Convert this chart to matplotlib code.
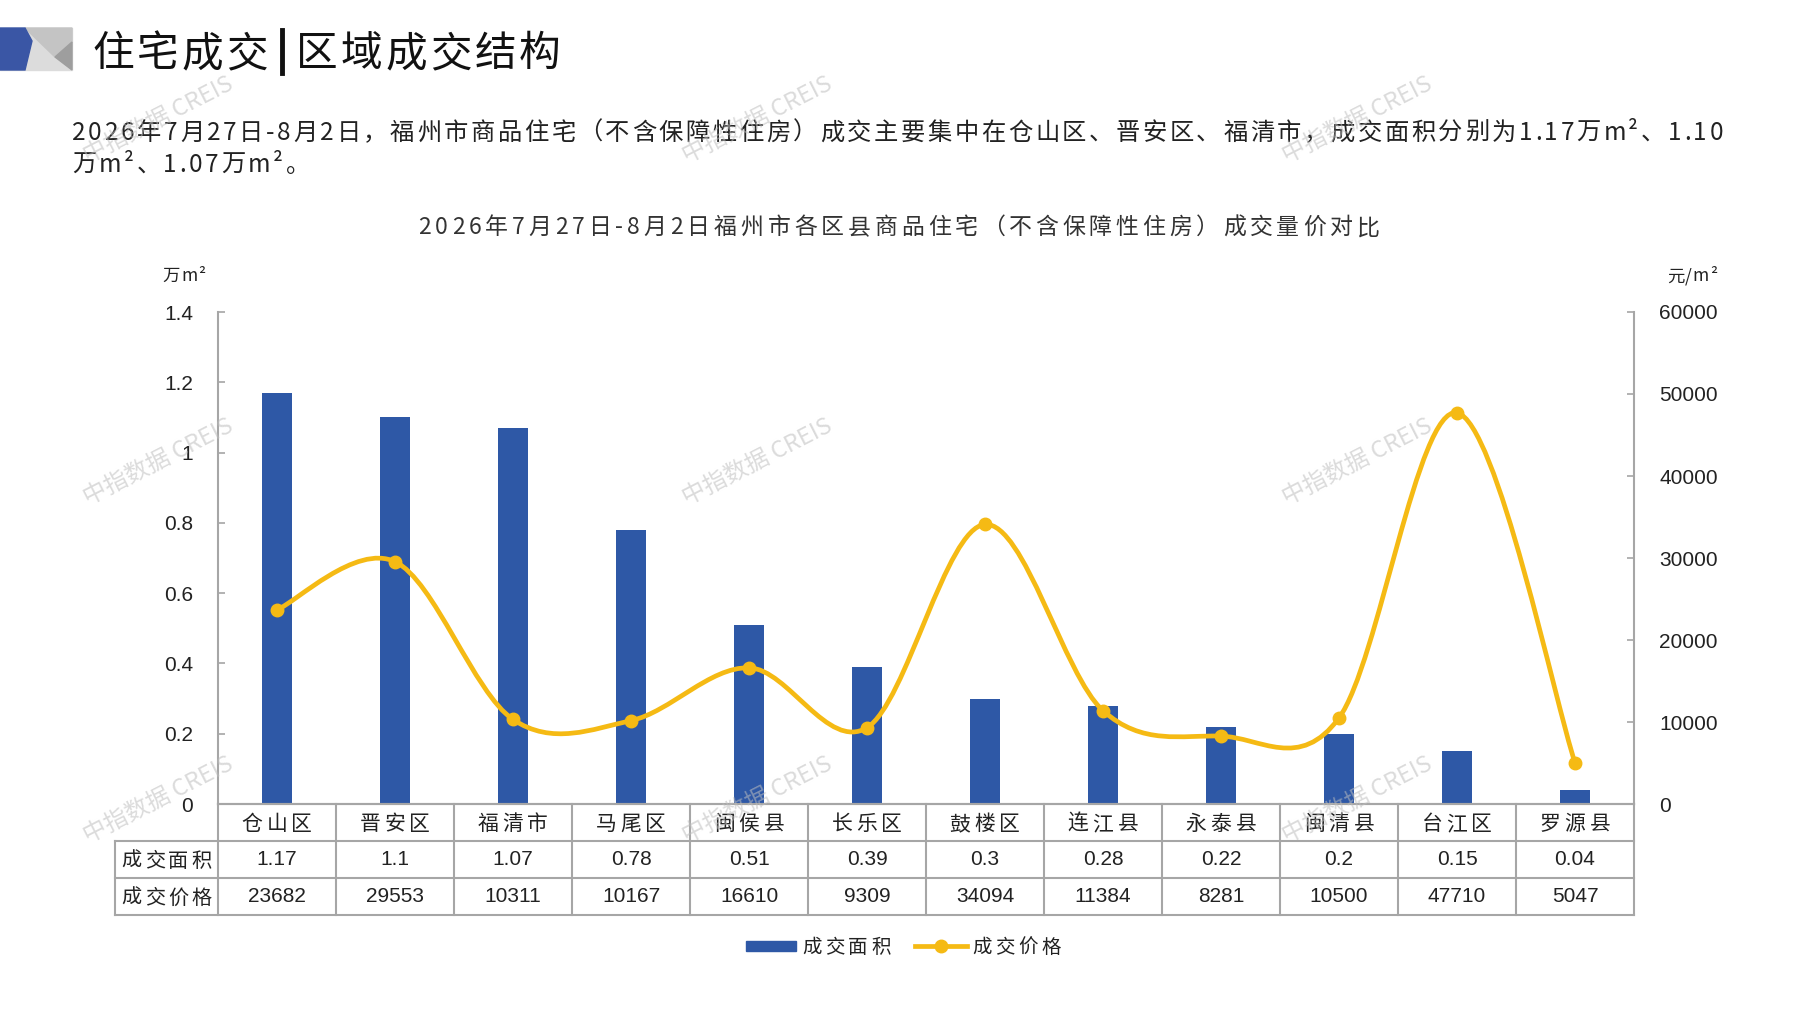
import matplotlib
matplotlib.use("Agg")
import matplotlib.pyplot as plt
from matplotlib.patches import Polygon, PathPatch
from matplotlib.path import Path
from matplotlib.lines import Line2D
from matplotlib.transforms import blended_transform_factory
from matplotlib.font_manager import FontProperties
import numpy as np

CJK = ['Noto Sans CJK SC', 'DejaVu Sans']
NUM = ['Liberation Sans Narrow', 'Liberation Sans', 'Noto Sans CJK SC']
plt.rcParams['font.family'] = CJK

# data
districts = ["仓山区", "晋安区", "福清市", "马尾区", "闽侯县", "长乐区",
             "鼓楼区", "连江县", "永泰县", "闽清县", "台江区", "罗源县"]
area = [1.17, 1.1, 1.07, 0.78, 0.51, 0.39, 0.3, 0.28, 0.22, 0.2, 0.15, 0.04]
area_labels = ["1.17", "1.1", "1.07", "0.78", "0.51", "0.39", "0.3", "0.28",
               "0.22", "0.2", "0.15", "0.04"]
price = [23682, 29553, 10311, 10167, 16610, 9309, 34094, 11384, 8281, 10500, 47710, 5047]

left_ticks = [0, 0.2, 0.4, 0.6, 0.8, 1.0, 1.2, 1.4]
left_labels = ["0", "0.2", "0.4", "0.6", "0.8", "1", "1.2", "1.4"]
right_ticks = [0, 10000, 20000, 30000, 40000, 50000, 60000]

summary_1 = "2026年7月27日-8月2日，福州市商品住宅（不含保障性住房）成交主要集中在仓山区、晋安区、福清市，成交面积分别为1.17万m²、1.10"
summary_2 = "万m²、1.07万m²。"
chart_title = "2026年7月27日-8月2日福州市各区县商品住宅（不含保障性住房）成交量价对比"

BLUE = "#2E58A6"
GOLD = "#F5BA14"
GRID = "#A6A6A6"
INK = "#222222"

W, H = 1797, 1010
fig = plt.figure(figsize=(W / 100, H / 100), dpi=100)
renderer = fig.canvas.get_renderer()


def px(x, y):
    return (x / W, 1 - y / H)


def widths(s, size, family=CJK):
    fp = FontProperties(family=family, size=size)
    return [renderer.get_text_width_height_descent(c, fp, ismath=False)[0] for c in s]


def spaced(x, y, s, size, track=0.0, ha="left", fit=None, color=INK, family=CJK):
    # x, y in pixels from top-left; places characters one by one with extra tracking
    ws = widths(s, size, family)
    if fit is not None:
        track = (fit - sum(ws)) / (len(s) - 1)
    total = sum(ws) + track * (len(s) - 1)
    cx = x - total / 2 if ha == "center" else x
    base = y + 0.36 * size * 100 / 72
    for c, w in zip(s, ws):
        fig.text(cx / W, 1 - base / H, c, fontsize=size, ha="left", va="baseline",
                 color=color, family=family)
        cx += w + track
    return track


# header logo
fig.patches.append(Polygon([px(0, 28), px(72, 28), px(72, 70), px(0, 70)],
                           closed=True, transform=fig.transFigure, color="#DCDCDC", zorder=1))
fig.patches.append(Polygon([px(25, 28), px(72, 28), px(72, 42), px(55, 57)],
                           closed=True, transform=fig.transFigure, color="#C4C4C4", zorder=2))
fig.patches.append(Polygon([px(72, 42), px(72, 70), px(55, 57)],
                           closed=True, transform=fig.transFigure, color="#9E9E9E", zorder=2))
fig.patches.append(Polygon([px(0, 28), px(25, 28), px(32, 41), px(25, 70), px(0, 70)],
                           closed=True, transform=fig.transFigure, color="#3A56A5", zorder=3))

spaced(92, 51, "住宅成交", 30, track=3, color="#111111")
fig.add_artist(Line2D([282 / W, 282 / W], [1 - 30 / H, 1 - 73 / H], color="#111111", lw=3.5))
spaced(296, 51, "区域成交结构", 30, track=3, color="#111111")

tr1 = spaced(72, 131, summary_1, 17.5, fit=1723 - 72)
spaced(72, 163, summary_2, 17.5, track=tr1)

spaced(899, 226, chart_title, 16.5, ha="center", fit=1380 - 419, color="#333333")

spaced(184, 275, "万m²", 12.5, ha="center", track=1)
spaced(1692, 275, "元/m²", 12.5, ha="center", track=1)

# main axes
ax = fig.add_axes([218 / W, 1 - 804 / H, (1634 - 218) / W, (804 - 312) / H])
ax2 = ax.twinx()
x = np.arange(len(districts))

ax.bar(x, area, width=0.25, color=BLUE, zorder=2)
ax.set_xlim(-0.5, len(districts) - 0.5)
ax.set_ylim(0, 1.4)
ax.set_yticks(left_ticks)
ax.set_yticklabels(left_labels, family=NUM, fontsize=15)
ax.set_xticks([])

ax2.set_ylim(0, 60000)
ax2.set_yticks(right_ticks)
ax2.set_yticklabels([str(t) for t in right_ticks], family=NUM, fontsize=15)

for a in (ax, ax2):
    a.spines["top"].set_visible(False)
    for s in ("left", "right", "bottom"):
        a.spines[s].set_color(GRID)
        a.spines[s].set_linewidth(1.5)
    a.tick_params(axis="y", direction="in", length=5, width=1.2, color=GRID, colors=INK, pad=18)
ax.spines["right"].set_visible(False)
ax2.spines["left"].set_visible(False)

# smooth price line (bezier through the points, like a smoothed office chart)
pts = np.column_stack([x, price]).astype(float)
ext = np.vstack([pts[0], pts, pts[-1]])
verts = [tuple(pts[0])]
codes = [Path.MOVETO]
for i in range(len(pts) - 1):
    p0, p1, p2, p3 = ext[i], ext[i + 1], ext[i + 2], ext[i + 3]
    c1 = p1 + (p2 - p0) / 6.0
    c2 = p2 - (p3 - p1) / 6.0
    verts += [tuple(c1), tuple(c2), tuple(p2)]
    codes += [Path.CURVE4] * 3
ax2.add_patch(PathPatch(Path(verts, codes), fill=False, edgecolor=GOLD, lw=3.4,
                        capstyle="round", joinstyle="round", zorder=4))
ax2.plot(x, price, linestyle="none", marker="o", markersize=9, color=GOLD, zorder=5)

# data table under the axes
tr = blended_transform_factory(ax.transData, ax.transAxes)
rh = 37 / 492
lab_left = -0.5 - 103 / 118
lab_mid = (lab_left - 0.5) / 2
lkw = dict(color=GRID, lw=1.5, transform=tr, clip_on=False)
for yy in (-rh, -2 * rh, -3 * rh):
    ax.plot([lab_left, len(districts) - 0.5], [yy, yy], **lkw)
for i in range(len(districts) + 1):
    ax.plot([i - 0.5, i - 0.5], [0, -3 * rh], **lkw)
ax.plot([lab_left, lab_left], [-rh, -3 * rh], **lkw)


def cell_xy(xd, row):
    dx, dy = tr.transform((xd, -(row + 0.5) * rh))
    return dx, H - dy


for i, name in enumerate(districts):
    cx, cy = cell_xy(i, 0)
    spaced(cx, cy, name, 15, ha="center", track=4)
    ax.text(i, -1.5 * rh, area_labels[i], transform=tr, ha="center", va="center",
            family=NUM, fontsize=15, color=INK)
    ax.text(i, -2.5 * rh, str(price[i]), transform=tr, ha="center", va="center",
            family=NUM, fontsize=15, color=INK)
for row, lab in ((1, "成交面积"), (2, "成交价格")):
    cx, cy = cell_xy(lab_mid, row)
    spaced(cx, cy, lab, 14.5, ha="center", track=3)

# legend
fig.patches.append(Polygon([px(746, 941), px(796, 941), px(796, 951), px(746, 951)],
                           closed=True, transform=fig.transFigure, color=BLUE))
spaced(802, 946, "成交面积", 14, track=3.5)
fig.add_artist(Line2D([915 / W, 967 / W], [1 - 946 / H, 1 - 946 / H], color=GOLD, lw=3.4))
fig.add_artist(Line2D([941 / W], [1 - 946 / H], color=GOLD, marker="o", markersize=9))
spaced(972, 946, "成交价格", 14, track=3.5)

# watermarks
for wx in (158, 757, 1357):
    for wy in (120, 462, 800):
        fig.text(wx / W, 1 - wy / H, "中指数据 CREIS", fontsize=17, rotation=27,
                 ha="center", va="center", color="#BEBEBE", alpha=0.55, zorder=10)

fig.savefig("out.png", dpi=100)
